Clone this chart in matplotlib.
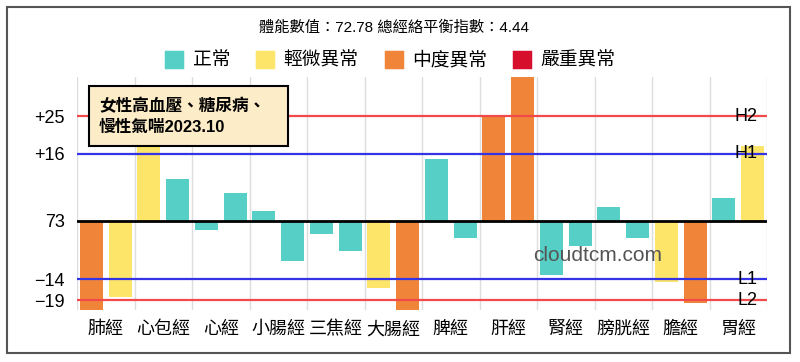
import numpy as np
import matplotlib.pyplot as plt
from matplotlib.patches import Patch, Rectangle

plt.rcParams['font.family'] = ['Liberation Sans', 'Noto Sans CJK TC', 'DejaVu Sans']

# meridians, two bars each (left / right)
meridians = ["肺經", "心包經", "心經", "小腸經", "三焦經", "大腸經",
             "脾經", "肝經", "腎經", "膀胱經", "膽經", "胃經"]
left_values = [-23, 20, -2.2, 2.3, -3.1, -16, 14.8, 25.3, -13.0, 3.4, -14.7, 5.4]
right_values = [-18.1, 9.9, 6.6, -9.7, -7.1, -23, -4.0, 36, -6.0, -4.0, -19.6, 17.9]
# 0 正常, 1 輕微異常, 2 中度異常, 3 嚴重異常
left_levels = [2, 1, 0, 0, 0, 1, 0, 2, 0, 0, 1, 0]
right_levels = [1, 0, 0, 0, 0, 2, 0, 2, 0, 0, 2, 1]

level_names = ["正常", "輕微異常", "中度異常", "嚴重異常"]
level_colors = ["#56d0c6", "#fde56a", "#f0853a", "#d50f2c"]

thresholds = [25, 16, -14, -19]
threshold_names = ["H2", "H1", "L1", "L2"]
threshold_colors = ["#f24a4a", "#3434e6", "#3434e6", "#f24a4a"]

tick_values = [25, 16, 0, -14, -19]
tick_labels = ["+25", "+16", "73", "−14", "−19"]

title_text = "體能數值：72.78 總經絡平衡指數：4.44"
note_lines = ["女性高血壓、糖尿病、", "慢性氣喘2023.10"]

W, H = 800, 362
fig = plt.figure(figsize=(W / 100, H / 100), dpi=100)
ax = fig.add_axes([77 / W, 1 - 310 / H, 690 / W, 233 / H])

x = np.arange(len(meridians))
ax.bar(x - 0.25, left_values, width=0.4,
       color=[level_colors[l] for l in left_levels], zorder=2)
ax.bar(x + 0.25, right_values, width=0.4,
       color=[level_colors[l] for l in right_levels], zorder=2)

ax.axhline(0, color="black", lw=2, zorder=3)
for v, name, c in zip(thresholds, threshold_names, threshold_colors):
    ax.axhline(v, color=c, lw=1.6, zorder=3)
    ax.annotate(name, xy=(1, v), xycoords=("axes fraction", "data"),
                xytext=(-7, 0), textcoords="offset points",
                ha="right", va="center", fontsize=13, zorder=4)

ax.set_xlim(-0.5, len(meridians) - 0.5)
ax.set_ylim(-21.3, 34.35)
ax.set_xticks(x)
ax.set_xticklabels(meridians, fontsize=13)
ax.set_xticks(np.arange(len(meridians) + 1) - 0.5, minor=True)
ax.grid(which="minor", axis="x", color="#dddddd", lw=1, zorder=0)
ax.set_yticks(tick_values)
ax.set_yticklabels(tick_labels, fontsize=13)
ax.tick_params(which="both", length=0)
ax.tick_params(axis="x", pad=8)
ax.tick_params(axis="y", pad=9)
for s in ax.spines.values():
    s.set_visible(False)

ax.text(0.754, 0.236, "cloudtcm.com", transform=ax.transAxes,
        ha="center", va="center", fontsize=15, color="#555555")

fig.text(394 / W, 1 - 28 / H, title_text, ha="center", va="center", fontsize=11)

handles = [Patch(facecolor=c, edgecolor=c, lw=2.5, joinstyle="round") for c in level_colors]
fig.legend(handles, level_names, loc="center", bbox_to_anchor=(391 / W, 1 - 61 / H),
           ncol=4, frameon=False, fontsize=13.5, handlelength=0.85, handleheight=0.85,
           handletextpad=0.55, columnspacing=1.45)

# note box
fig.add_artist(Rectangle((89 / W, 1 - 146 / H), 199 / W, 60 / H,
                         transform=fig.transFigure, facecolor="#fdecc8",
                         edgecolor="black", lw=1.5, zorder=5))
fig.text(99 / W, 1 - 106 / H, note_lines[0], ha="left", va="center",
         fontsize=12, fontweight="bold", zorder=6)
fig.text(99 / W, 1 - 127 / H, note_lines[1], ha="left", va="center",
         fontsize=12, fontweight="bold", zorder=6)

# outer frame
fig.add_artist(Rectangle((7 / W, 1 - 353 / H), 783 / W, 346 / H,
                         transform=fig.transFigure, fill=False,
                         edgecolor="#555555", lw=1.5))

fig.savefig("out.png", dpi=100)
